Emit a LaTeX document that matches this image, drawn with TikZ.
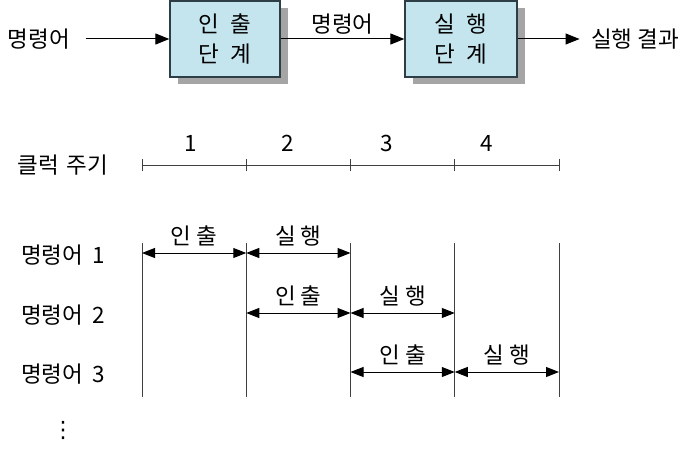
\documentclass[tikz,border=0pt]{standalone}
\usepackage{fontspec}
\setmainfont{Noto Sans CJK KR}
\newfontfamily\symfont{DejaVu Sans}
\usetikzlibrary{calc, arrows.meta, shadows}
\definecolor{stagefill}{RGB}{196,229,238}
\definecolor{stageedge}{RGB}{45,62,70}
\definecolor{shadowgray}{RGB}{165,165,165}

\begin{document}
\begin{tikzpicture}[x=1pt, y=-1pt, font=\fontsize{22.5}{30}\selectfont,
    stage/.style={draw=stageedge, line width=1.3pt, fill=stagefill,
      minimum width=110pt, minimum height=76pt, align=center,
      drop shadow={shadow xshift=8pt, shadow yshift=-7pt, fill=shadowgray, opacity=1}},
    flow/.style={-{Triangle[length=14pt, width=11pt]}, line width=1pt},
    span/.style={{Triangle[length=13pt, width=10pt]}-{Triangle[length=13pt, width=10pt]}, line width=1pt},
    phase/.style={above=3pt},
    grid/.style={line width=0.8pt, black!75}]

    \useasboundingbox (0,0) rectangle (698,449);

    % 1. The two stages and the flow through them
    \node (in) at (39,39) {명령어};
    \node[stage] (fetch) at (225,39) {인\hspace{12pt}출\\단\hspace{12pt}계};
    \node[stage, minimum width=112pt] (exec) at (461,39) {실\hspace{12pt}행\\단\hspace{12pt}계};
    \node (out) at (635,39) {실행 결과};

    \draw[flow, shorten <=12pt] (in) -- (fetch);
    \draw[flow] (fetch) -- node[above=1pt] {명령어} (exec);
    \draw[flow, shorten >=8pt] (exec) -- (out);

    % 2. Clock axis with its ticks
    \node (clk) at (63,165) {클럭\hspace{8pt}주기};
    \foreach \i in {0,...,4}
        \coordinate (t\i) at (142+104.25*\i,165);
    \draw[grid] (t0) -- (t4);
    \foreach \i in {0,...,4}
        \draw[grid] ($(t\i)+(0,-6)$) -- ($(t\i)+(0,6)$);
    \foreach \n/\x in {1/191, 2/288, 3/387, 4/487}
        \node (n\n) at (\x,143) {\n};

    % 3. Cycle boundaries
    \foreach \i in {0,...,4} {
        \coordinate (top\i) at (142+104.25*\i,243);
        \coordinate (bot\i) at (142+104.25*\i,397);
        \draw[grid] (top\i) -- (bot\i);
    }

    % 4. One row per instruction
    \foreach \r/\y in {1/253, 2/313, 3/372} {
        \node (row\r) at (63,\y+2) {명령어\hspace{9pt}\r};
        \foreach \i in {0,...,4}
            \coordinate (r\r-\i) at (142+104.25*\i,\y);
    }

    \draw[span] (r1-0) -- node[phase] {인 출} (r1-1);
    \draw[span] (r1-1) -- node[phase] {실 행} (r1-2);
    \draw[span] (r2-1) -- node[phase] {인 출} (r2-2);
    \draw[span] (r2-2) -- node[phase] {실 행} (r2-3);
    \draw[span] (r3-2) -- node[phase] {인 출} (r3-3);
    \draw[span] (r3-3) -- node[phase] {실 행} (r3-4);

    \node (more) at (63,430) {\symfont ⋮};
\end{tikzpicture}
\end{document}
